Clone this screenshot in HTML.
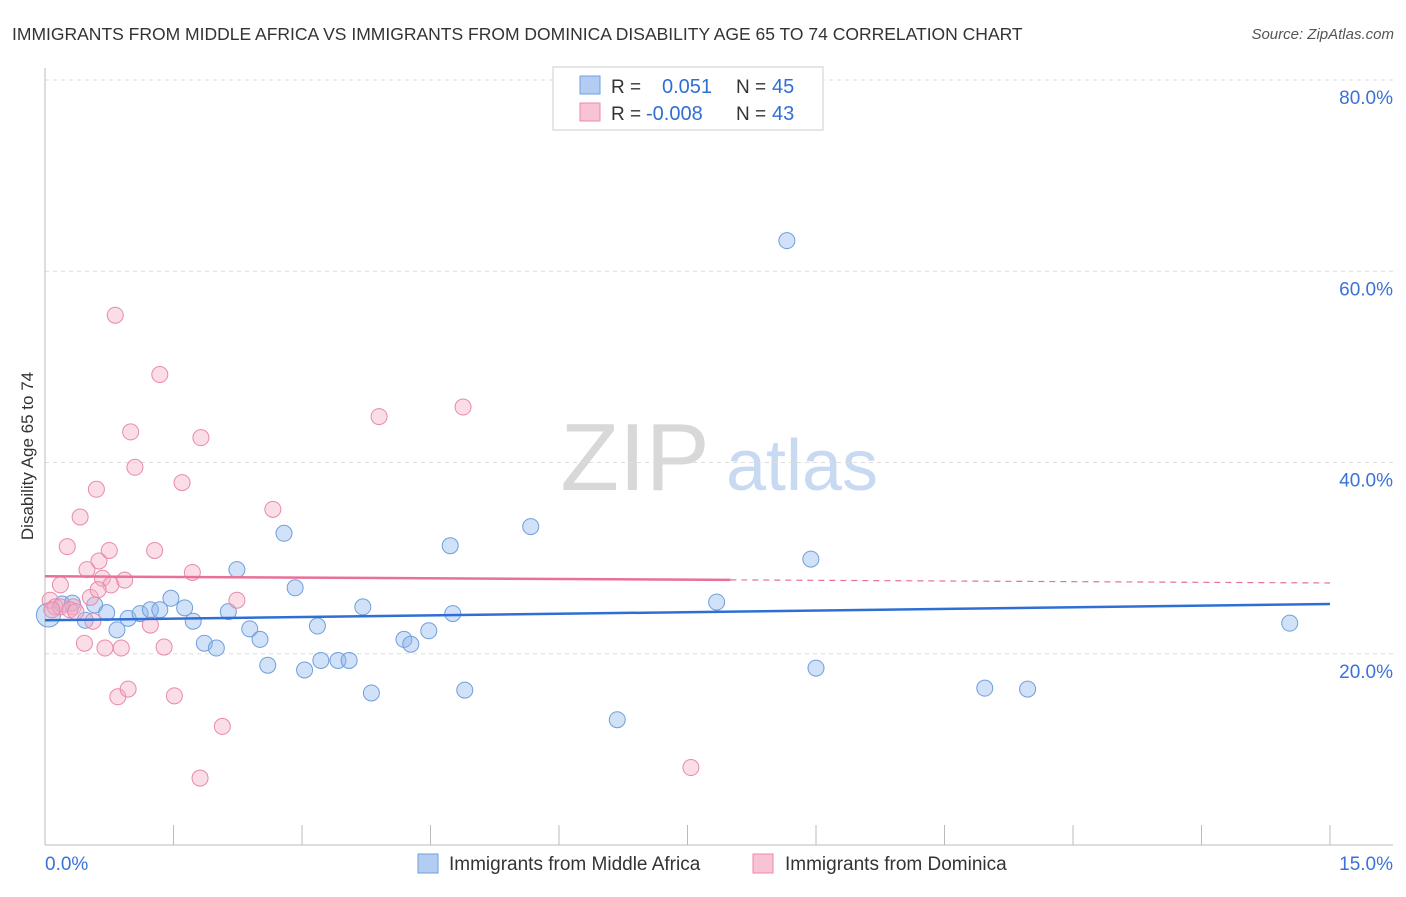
<!DOCTYPE html>
<html><head><meta charset="utf-8">
<style>
body{margin:0;background:#fff;font-family:"Liberation Sans",sans-serif;}
svg text{font-family:"Liberation Sans",sans-serif;}
</style></head>
<body>
<svg id="chart" width="1406" height="892" xmlns="http://www.w3.org/2000/svg">
<text x="12" y="40" font-size="17.5" fill="#333">IMMIGRANTS FROM MIDDLE AFRICA VS IMMIGRANTS FROM DOMINICA DISABILITY AGE 65 TO 74 CORRELATION CHART</text>
<text x="1394" y="39" font-size="15" fill="#555" text-anchor="end" font-style="italic">Source: ZipAtlas.com</text>
<g>
<text x="635" y="490" font-size="96" fill="#d8d8d8" text-anchor="middle" font-family="Liberation Serif, serif">ZIP</text>
<text x="802" y="490" font-size="72" fill="#c8daf2" text-anchor="middle">atlas</text>
</g>
<g id="grid"></g>
<g id="axes"></g>
<g id="marks"></g>
<text transform="translate(33,456) rotate(-90)" font-size="17" fill="#333" text-anchor="middle">Disability Age 65 to 74</text>
<g>
<rect x="553" y="67" width="270" height="63" fill="#fff" stroke="#ccc"/>
<rect x="580" y="76" width="20" height="18" fill="#b3cdf2" stroke="#6f9fdc"/>
<rect x="580" y="103" width="20" height="18" fill="#f8c4d4" stroke="#e88aaa"/>
<text x="611" y="93" font-size="19" fill="#333">R =</text>
<text x="662" y="93" font-size="20" fill="#2f6fd4">0.051</text>
<text x="736" y="93" font-size="19" fill="#333">N =</text>
<text x="772" y="93" font-size="20" fill="#2f6fd4">45</text>
<text x="611" y="120" font-size="19" fill="#333">R =</text>
<text x="646" y="120" font-size="20" fill="#2f6fd4">-0.008</text>
<text x="736" y="120" font-size="19" fill="#333">N =</text>
<text x="772" y="120" font-size="20" fill="#2f6fd4">43</text>
</g>
<g>
<rect x="418" y="854" width="20" height="19" fill="#b3cdf2" stroke="#6f9fdc"/>
<text x="449" y="870" font-size="19" fill="#333">Immigrants from Middle Africa</text>
<rect x="753" y="854" width="20" height="19" fill="#f8c4d4" stroke="#e88aaa"/>
<text x="785" y="870" font-size="19" fill="#333">Immigrants from Dominica</text>
</g>
</svg>
<script>
const yTicks=[20,40,60,80];
const yTickLabels=["20.0%","40.0%","60.0%","80.0%"];
const xTickLabels=["0.0%","15.0%"];
const blueX=[0.04,0.20,0.32,0.47,0.58,0.72,0.84,0.97,1.11,1.23,1.34,1.47,1.63,1.73,1.86,2.00,2.14,2.24,2.39,2.51,2.60,2.79,2.92,3.03,3.18,3.22,3.42,3.55,3.71,3.81,4.19,4.27,4.48,4.73,4.76,4.90,5.67,6.68,7.84,8.66,8.94,9.00,10.97,11.47,14.53];
const blueY=[24.05,25.2,25.3,23.5,25.1,24.3,22.5,23.7,24.2,24.6,24.6,25.8,24.8,23.4,21.1,20.6,24.4,28.8,22.6,21.5,18.8,32.6,26.9,18.3,22.9,19.3,19.3,19.3,24.9,15.9,21.5,21.0,22.4,31.3,24.2,16.2,33.3,13.1,25.4,63.2,29.9,18.5,16.4,16.3,23.2];
const pinkX=[0.06,0.12,0.18,0.26,0.33,0.41,0.46,0.49,0.53,0.56,0.60,0.63,0.67,0.70,0.75,0.77,0.82,0.85,0.89,0.93,0.97,1.00,1.05,1.23,1.28,1.34,1.39,1.51,1.60,1.72,1.81,1.82,2.07,2.24,2.66,3.90,4.88,7.54,0.18,0.29,0.36,0.62,0.08];
const pinkY=[25.6,24.9,27.2,31.2,24.9,34.3,21.1,28.8,25.9,23.4,37.2,29.7,27.9,20.6,30.8,27.2,55.4,15.5,20.6,27.7,16.3,43.2,39.5,23.0,30.8,49.2,20.7,15.6,37.9,28.5,7.0,42.6,12.4,25.6,35.1,44.8,45.8,8.1,24.9,24.6,24.4,26.7,24.6];
const blueTrend=[23.5,25.2];
const pinkTrend=[28.1,27.4];
const pinkSolidEnd=8.0;

const NS="http://www.w3.org/2000/svg";
const X0=45,X1=1330,Y0=845,PXPERPCT=9.5625;
function xs(v){return X0+(X1-X0)*v/15;}
function ys(v){return Y0-v*PXPERPCT;}
function mk(tag,attrs,parent){const e=document.createElementNS(NS,tag);for(const k in attrs)e.setAttribute(k,attrs[k]);parent.appendChild(e);return e;}
const grid=document.getElementById('grid'),axes=document.getElementById('axes'),marks=document.getElementById('marks');
yTicks.forEach((t,i)=>{
  const l=mk('line',{x1:X0,x2:1393,y1:ys(t),y2:ys(t),stroke:'#ddd','stroke-dasharray':'4,4'},grid);
  
  
  const tx=mk('text',{x:1393,y:ys(t)+24,'font-size':19,fill:'#3a72d8','text-anchor':'end'},axes);
  tx.textContent=yTickLabels[i];
  
  
});
const ax=mk('line',{x1:X0,x2:X0,y1:68,y2:Y0,stroke:'#bbb'},axes);


const bx=mk('line',{x1:X0,x2:1393,y1:Y0,y2:Y0,stroke:'#bbb'},axes);


for(let i=0;i<=10;i++){
  const t=mk('line',{x1:xs(i*1.5),x2:xs(i*1.5),y1:Y0-20,y2:Y0,stroke:'#bbb'},axes);
  
  
}
const xl0=mk('text',{x:45,y:870,'font-size':19,fill:'#3a72d8'},axes);
xl0.textContent=xTickLabels[0];


const xl1=mk('text',{x:1393,y:870,'font-size':19,fill:'#3a72d8','text-anchor':'end'},axes);
xl1.textContent=xTickLabels[1];



blueX.forEach((x,i)=>{
  const c=mk('circle',{cx:xs(x),cy:ys(blueY[i]),r:i===0?12:8,fill:'rgba(140,180,235,0.4)',stroke:'#6f9fdc','stroke-width':1},marks);
  
  
});
pinkX.forEach((x,i)=>{
  const c=mk('circle',{cx:xs(x),cy:ys(pinkY[i]),r:8,fill:'rgba(245,170,195,0.4)',stroke:'#e88aaa','stroke-width':1},marks);
  
  
});
function pt(tr,x){return tr[0]+(tr[1]-tr[0])*x/15;}
const bl=mk('line',{x1:xs(0),y1:ys(pt(blueTrend,0)),x2:xs(15),y2:ys(pt(blueTrend,15)),stroke:'#2f6fd4','stroke-width':2.5},marks);


const pl=mk('line',{x1:xs(0),y1:ys(pt(pinkTrend,0)),x2:xs(pinkSolidEnd),y2:ys(pt(pinkTrend,pinkSolidEnd)),stroke:'#e8709a','stroke-width':2.5},marks);


const pd=mk('line',{x1:xs(pinkSolidEnd),y1:ys(pt(pinkTrend,pinkSolidEnd)),x2:xs(15),y2:ys(pt(pinkTrend,15)),stroke:'#e8709a','stroke-width':1.2,'stroke-dasharray':'6,5'},marks);


</script>
</body></html>
